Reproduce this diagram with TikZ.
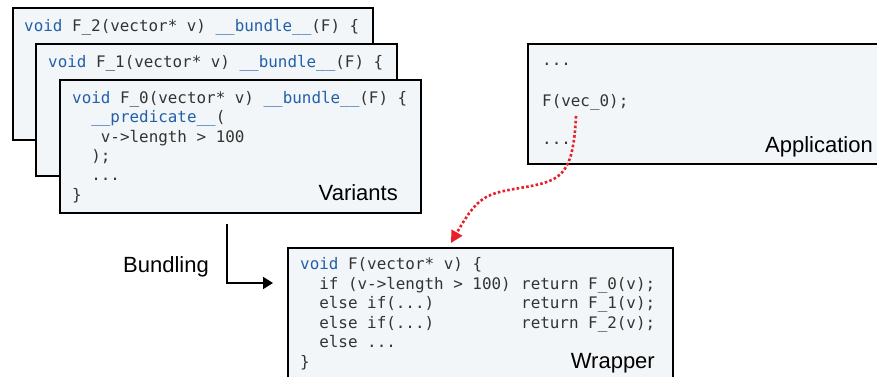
\documentclass[tikz,border=0pt]{standalone}
\usepackage{fontspec}
\setmonofont{DejaVu Sans Mono}
\setsansfont{Liberation Sans}
\usetikzlibrary{arrows.meta}
\definecolor{codegray}{HTML}{333333}
\definecolor{kwblue}{HTML}{2360A8}
\definecolor{boxfill}{HTML}{F3F6F8}
\definecolor{callred}{HTML}{E8202A}
\newcommand\kw[1]{\textcolor{kwblue}{#1}}
\newcommand\ind[1]{\phantom{#1}}
\begin{document}
\begin{tikzpicture}[x=1pt,y=-1pt,
  codebox/.style={draw=black, line width=1.8pt, fill=boxfill, inner sep=0pt, anchor=north west},
  code/.style={anchor=base west, inner sep=0pt, text=codegray,
    font=\ttfamily\fontsize{15.9}{19}\selectfont},
  boxlabel/.style={inner sep=0pt, anchor=base east, text=black,
    font=\sffamily\fontsize{22}{26}\selectfont},
  connector/.style={line width=1.8pt, -{Triangle[length=10pt,width=12pt]}},
  callpath/.style={callred, line width=2.6pt, dash pattern=on 2.6pt off 2.2pt,
    -{Triangle[length=12pt,width=12pt]}},
]
\useasboundingbox (0,0) rectangle (877,377);
\clip (0,0) rectangle (877,377);

% stacked variant boxes, back to front
\node[codebox, minimum width=360pt, minimum height=132pt] (f2) at (12,7) {};
\node[code] (f2l1) at (24,31.5) {\kw{void} F\_2(vector* v) \kw{\_\_bundle\_\_}(F) \{};

\node[codebox, minimum width=361pt, minimum height=132pt] (f1) at (35,43) {};
\node[code] (f1l1) at (48,67.5) {\kw{void} F\_1(vector* v) \kw{\_\_bundle\_\_}(F) \{};

\node[codebox, minimum width=361pt, minimum height=133pt] (f0) at (59,79) {};
\node[code] (f0l1) at (72,103.5) {\kw{void} F\_0(vector* v) \kw{\_\_bundle\_\_}(F) \{};
\node[code] (f0l2) at (72,122.8) {\ind{xx}\kw{\_\_predicate\_\_}(};
\node[code] (f0l3) at (72,142.1) {\ind{xxx}v->length > 100};
\node[code] (f0l4) at (72,161.4) {\ind{xx});};
\node[code] (f0l5) at (72,180.7) {\ind{xx}...};
\node[code] (f0l6) at (72,200.0) {\}};
\node[boxlabel] (varlabel) at (398,200) {Variants};

% application box (runs past the right edge)
\node[codebox, minimum width=380pt, minimum height=120pt] (app) at (527,43) {};
\node[code] (appl1) at (542,66) {...};
\node[code] (appl2) at (542,106.5) {F(vec\_0);};
\node[code] (appl3) at (542,144) {...};
\node[boxlabel] (applabel) at (873,152) {Application};

% wrapper box (runs past the bottom edge)
\node[codebox, minimum width=385pt, minimum height=150pt] (wrap) at (287,247) {};
\node[code] (wl1) at (300,269.5) {\kw{void} F(vector* v) \{};
\node[code] (wl2) at (300,289.0) {\ind{xx}if (v->length > 100)};
\node[code] (wl3) at (300,308.5) {\ind{xx}else if(...)};
\node[code] (wl4) at (300,328.0) {\ind{xx}else if(...)};
\node[code] (wl5) at (300,347.5) {\ind{xx}else ...};
\node[code] (wl6) at (300,367.0) {\}};
\node[code] (wr2) at (521,289.0) {return F\_0(v);};
\node[code] (wr3) at (521,308.5) {return F\_1(v);};
\node[code] (wr4) at (521,328.0) {return F\_2(v);};
\node[boxlabel] (wraplabel) at (655,368) {Wrapper};

% bundling step
\coordinate (bundlestart) at (227,224);
\coordinate (bundleend) at (273,283);
\draw[connector] (bundlestart) |- (bundleend);
\node[inner sep=0pt, anchor=base west, font=\sffamily\fontsize{22}{26}\selectfont]
  (bundlabel) at (123,272) {Bundling};

% call site resolved to the wrapper
\coordinate (callsrc) at (576,116);
\coordinate (calltgt) at (451,243);
\draw[callpath] (callsrc) .. controls (573,178) and (560,181) .. (520,188)
  .. controls (485,194) and (478,196) .. (calltgt);
\end{tikzpicture}
\end{document}
